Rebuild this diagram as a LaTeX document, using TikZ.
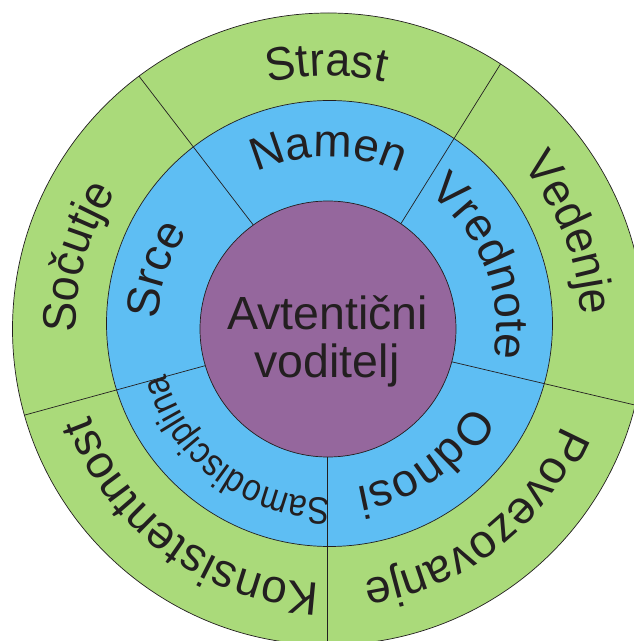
\documentclass[tikz,border=0pt]{standalone}
\usepackage{fontspec}
\setmainfont{Liberation Sans}
\newfontfamily\ringfam[FakeStretch=0.95]{Liberation Sans}
\newfontfamily\ringwidefam[FakeStretch=0.98]{Liberation Sans}
\newfontfamily\smallfam[FakeStretch=0.87]{Liberation Sans}
\usetikzlibrary{decorations.text,calc}
\definecolor{ringgreen}{RGB}{170,218,122}
\definecolor{ringblue}{RGB}{94,190,243}
\definecolor{corepurple}{RGB}{149,103,157}
\definecolor{txtcol}{RGB}{35,31,32}
\newcommand\outerfont{\ringfam\fontsize{47}{50}\selectfont\color{txtcol}}
\newcommand\outerwidefont{\ringwidefam\fontsize{47}{50}\selectfont\color{txtcol}}
\newcommand\innerfont{\fontsize{46}{50}\selectfont\color{txtcol}}
\newcommand\sdfont{\smallfam\fontsize{38}{40}\selectfont\color{txtcol}}
\tikzset{
  outline/.style={draw=txtcol, line width=0.7pt},
  divider/.style={draw=txtcol, line width=0.7pt},
  labeltext/.style={decorate, decoration={text along path, text align=center, text={#1}}},
  coretext/.style={font=\fontsize{46.5}{48}\selectfont, text=txtcol, inner sep=0pt}
}
\begin{document}
\begin{tikzpicture}[x=1pt,y=1pt]
\useasboundingbox (0,0) rectangle (634,641);
\clip (0,0) rectangle (634,641);
\coordinate (C) at (328.5,312);
\coordinate (B) at (329.5,317.5);
\coordinate (P) at (328,312);
% rings
\fill[ringgreen] (C) circle[radius=316];
\fill[ringblue] (B) circle[radius=223];
% dividers
\coordinate (l1a) at (251,419);   \coordinate (l1b) at (105.3,608.7);
\coordinate (l2a) at (402.8,420.4); \coordinate (l2b) at (529.2,622.9);
\coordinate (l3a) at (452.6,279); \coordinate (l3b) at (689.5,223.1);
\coordinate (l4a) at (327.3,184.3); \coordinate (l4b) at (327.3,-60);
\coordinate (l5a) at (204,275);   \coordinate (l5b) at (-28.7,211.3);
\begin{scope}
\clip (C) circle[radius=316];
\foreach \i in {1,...,5}{
  \draw[divider] ($(l\i a)!-0.05!(l\i b)$) -- (l\i b);
}
\end{scope}
\draw[outline] (B) circle[radius=223];
\filldraw[outline, fill=corepurple] (P) circle[radius=128];
\draw[outline] (C) circle[radius=316];
% center text
\node[coretext, anchor=base] (t1) at (327.5,311) {Avtentični};
\node[coretext, anchor=base] (t2) at (327,263) {voditelj};
% outer ring labels
\path[labeltext={|\outerfont|Strast}] (C) ++(160.5:253) arc[start angle=160.5, end angle=20.5, radius=253];
\path[labeltext={|\outerfont|Vedenje}] (C) ++(91.6:253) arc[start angle=91.6, end angle=-48.4, radius=253];
\path[labeltext={|\outerwidefont|Povezovanje}] (C) ++(17.7:253) arc[start angle=17.7, end angle=-122.3, radius=253];
\path[labeltext={|\outerwidefont|Konsistentnost}] (C) ++(304:254) arc[start angle=304, end angle=164, radius=254];
\path[labeltext={|\outerfont|Sočutje}] (C) ++(234:253) arc[start angle=234, end angle=94, radius=253];
% inner ring labels
\path[labeltext={|\innerfont|Namen}] (C) ++(160:172) arc[start angle=160, end angle=20, radius=172];
\path[labeltext={|\innerfont|Vrednote}] (C) ++(92:168) arc[start angle=92, end angle=-48, radius=168];
\path[labeltext={|\innerfont|Odnosi}] (C) ++(16:161) arc[start angle=16, end angle=-124, radius=161];
\path[labeltext={|\sdfont|Samodisciplina}] (C) ++(303:169) arc[start angle=303, end angle=163, radius=169];
\path[labeltext={|\innerfont|Srce}] (C) ++(231:171) arc[start angle=231, end angle=91, radius=171];
\end{tikzpicture}
\end{document}
